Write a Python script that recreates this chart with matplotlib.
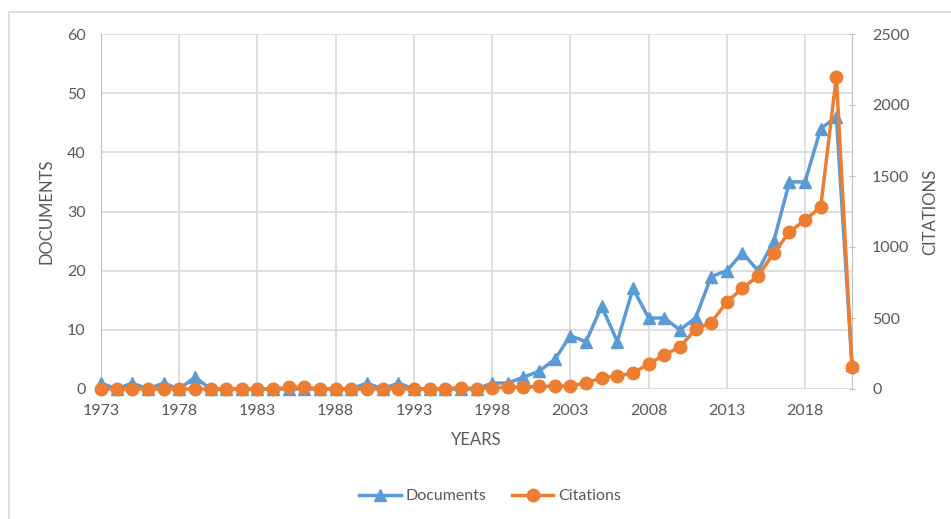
import matplotlib.pyplot as plt
import matplotlib.patches as patches
from matplotlib.lines import Line2D

# documents and citations per year, 1973-2021
years = list(range(1973, 2022))
documents = [1, 0, 1, 0, 1, 0, 2, 0, 0, 0,
             0, 0, 0, 0, 0, 0, 0, 1, 0, 1,
             0, 0, 0, 0, 0, 1, 1, 2, 3, 5,
             9, 8, 14, 8, 17, 12, 12, 10, 12, 19,
             20, 23, 20, 25, 35, 35, 44, 46, 4]
citations = [0, 0, 0, 0, 0, 0, 0, 0, 0, 0,
             0, 0, 12, 12, 2, 2, 2, 0, 2, 2,
             0, 2, 2, 10, 2, 10, 12, 15, 18, 20,
             22, 42, 80, 90, 113, 176, 239, 296, 420, 468,
             612, 711, 796, 958, 1106, 1190, 1282, 2200, 155]
year_ticks = list(range(1973, 2022, 5))

BLUE = "#5B9BD5"
ORANGE = "#ED7D31"
TEXT = "#595959"
GRID = "#D9D9D9"

plt.rcParams["font.family"] = ["Lato", "DejaVu Sans"]

fig = plt.figure(figsize=(9.51, 5.19), dpi=100)
ax = fig.add_axes([101 / 951, 1 - 389 / 519, 751 / 951, 355 / 519])
ax2 = ax.twinx()

# outer chart border
fig.patches.append(patches.Rectangle((9 / 951, -0.1), 1.0, 1 - 12 / 519 + 0.1,
                                     transform=fig.transFigure, fill=False,
                                     edgecolor=GRID, linewidth=1.2))

ax.plot(years, documents, color=BLUE, linewidth=2.5, marker="^",
        markersize=9, clip_on=False, zorder=3)
ax2.plot(years, citations, color=ORANGE, linewidth=2.5, marker="o",
         markersize=9, clip_on=False, zorder=3)

ax.set_xlim(1973, 2021)
ax.set_ylim(0, 60)
ax2.set_ylim(0, 2500)
ax.set_xticks(year_ticks)
ax.set_yticks(range(0, 61, 10))
ax2.set_yticks(range(0, 2501, 500))

ax.grid(True, color=GRID, linewidth=1.2)
ax.set_axisbelow(True)

for spine in ["top", "right", "bottom"]:
    ax.spines[spine].set_visible(False)
ax.spines["left"].set_color("#BFBFBF")
for spine in ["top", "left", "bottom"]:
    ax2.spines[spine].set_visible(False)
ax2.spines["right"].set_color("#BFBFBF")

ax.tick_params(axis="both", length=0, labelsize=11.5, labelcolor=TEXT, pad=11)
ax2.tick_params(axis="y", length=5, direction="inout", color="#BFBFBF",
                labelsize=11.5, labelcolor=TEXT, pad=12)

ax.set_xlabel("YEARS", fontsize=12, color=TEXT, labelpad=10)
ax.set_ylabel("DOCUMENTS", fontsize=12, color=TEXT, labelpad=9)
ax2.set_ylabel("CITATIONS", fontsize=12, color=TEXT, labelpad=9)

handles = [Line2D([], [], color=BLUE, linewidth=2.5, marker="^", markersize=9),
           Line2D([], [], color=ORANGE, linewidth=2.5, marker="o", markersize=9)]
fig.legend(handles, ["Documents", "Citations"], loc="center",
           bbox_to_anchor=(490 / 951, 1 - 496 / 519), ncol=2, frameon=False,
           fontsize=11.5, labelcolor=TEXT, handlelength=2.6, columnspacing=1.6,
           handletextpad=0.3)

fig.savefig("out.png", dpi=100, facecolor="white")
